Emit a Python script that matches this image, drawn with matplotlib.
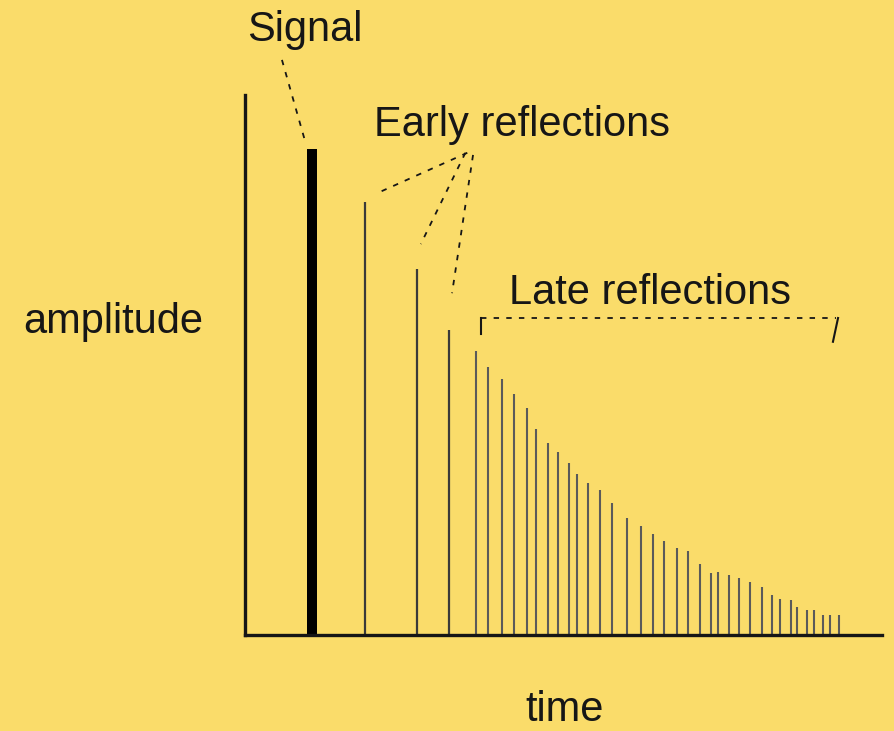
import matplotlib
matplotlib.use("Agg")
import matplotlib.pyplot as plt

plt.rcParams["font.family"] = ["Liberation Sans", "DejaVu Sans"]

BG = "#FADC6A"
INK = "#161616"

# time / amplitude of each impulse (arbitrary units)
SIGNAL_T = [1.05]
SIGNAL_A = [9.00]
EARLY_T = [1.88, 2.70, 3.20]
EARLY_A = [8.02, 6.77, 5.64]
LATE_T = [3.62, 3.81, 4.03, 4.23, 4.42, 4.57, 4.75, 4.92, 5.08, 5.21,
          5.38, 5.57, 5.76, 5.99, 6.22, 6.41, 6.57, 6.78, 6.96, 7.14,
          7.31, 7.43, 7.60, 7.75, 7.93, 8.11, 8.27, 8.40, 8.57, 8.67,
          8.82, 8.94, 9.07, 9.19, 9.33]
LATE_A = [5.26, 4.96, 4.75, 4.46, 4.20, 3.81, 3.55, 3.38, 3.18, 2.98,
          2.81, 2.69, 2.44, 2.16, 2.01, 1.87, 1.74, 1.62, 1.56, 1.31,
          1.15, 1.17, 1.11, 1.06, 0.99, 0.88, 0.74, 0.66, 0.65, 0.51,
          0.46, 0.46, 0.37, 0.37, 0.37]

W, H = 894, 731
fig = plt.figure(figsize=(W / 100, H / 100), dpi=100, facecolor=BG)
ax = fig.add_axes([245 / W, (H - 635) / H, (882 - 245) / W, (635 - 95) / H])
ax.set_facecolor(BG)
ax.set_xlim(0, 10)
ax.set_ylim(0, 10)
for s in ["top", "right"]:
    ax.spines[s].set_visible(False)
for s in ["left", "bottom"]:
    ax.spines[s].set_linewidth(2.4)
    ax.spines[s].set_color(INK)
ax.set_xticks([])
ax.set_yticks([])

ax.vlines(SIGNAL_T, 0, SIGNAL_A, color="black", lw=7.2)
ax.vlines(EARLY_T, 0, EARLY_A, color="#3a3a3a", lw=1.6)
ax.vlines(LATE_T, 0, LATE_A, color="#5a5a5a", lw=1.5)

dash = dict(color=INK, lw=1.3, ls=(0, (3, 4)), clip_on=False)
txt = dict(fontsize=30, color=INK, ha="center", va="center", clip_on=False)

# Signal label
ax.text(0.94, 11.20, "Signal", **txt)
ax.plot([0.58, 0.93], [10.65, 9.20], **dash)

# Early reflections label
ax.text(4.35, 9.44, "Early reflections", **txt)
ax.plot([3.49, 2.09], [8.93, 8.19], **dash)
ax.plot([3.46, 2.76], [8.93, 7.24], **dash)
ax.plot([3.58, 3.25], [8.89, 6.33], **dash)

# Late reflections bracket
ax.text(6.36, 6.33, "Late reflections", **txt)
ax.plot([3.70, 9.28], [5.87, 5.87], **dash)
ax.plot([3.70, 3.70], [5.87, 5.57], color=INK, lw=1.5, clip_on=False)
ax.plot([9.31, 9.23], [5.87, 5.43], color=INK, lw=1.5, clip_on=False)

# axis labels
ax.text(-2.07, 5.80, "amplitude", **txt)
ax.text(5.02, -1.39, "time", **txt)

fig.savefig("out.png", dpi=100, facecolor=BG)
